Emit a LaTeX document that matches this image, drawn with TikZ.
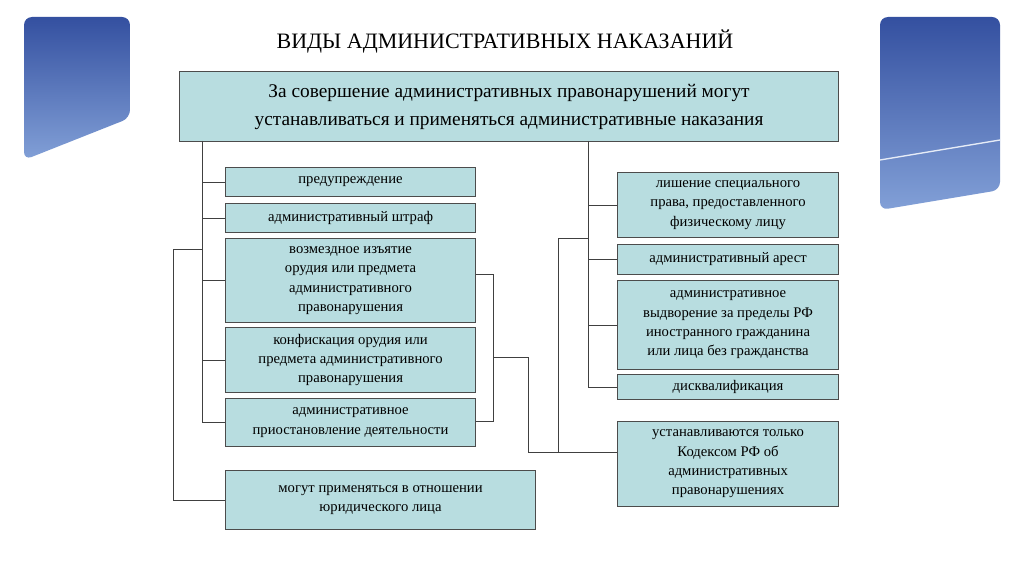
\documentclass[tikz,border=0pt]{standalone}
\usepackage{fontspec}
\setmainfont{Liberation Serif}
\begin{document}
\begin{tikzpicture}[x=0.75pt,y=-0.75pt,
 bx/.style={draw=black!70,fill=boxc,line width=0.8pt,align=center,font=\fontsize{11}{14.5}\selectfont,inner sep=0pt,anchor=north west},
 ln/.style={draw=black!75,line width=0.7pt}]
\definecolor{boxc}{RGB}{184,221,224}
\definecolor{bd}{RGB}{52,80,160}
\definecolor{bl}{RGB}{130,160,215}
\useasboundingbox (0,0) rectangle (1024,574);
\fill[white] (0,0) rectangle (1024,574);
% side panels
\shade[top color=bd,bottom color=bl,rounded corners=6pt] (24,17) -- (130,17) -- (130,118) -- (24,160) -- cycle;
\shade[top color=bd,bottom color=bl,rounded corners=6pt] (880,17) -- (1000,17) -- (1000,190) -- (880,210) -- cycle;
\draw[white!80!bl,line width=1pt] (880,160) -- (1000,140);
\fill[white] (130,0) rectangle (880,560);
% title
\node[font=\fontsize{16.5}{20}\selectfont] (title) at (505,42) {ВИДЫ АДМИНИСТРАТИВНЫХ НАКАЗАНИЙ};
% boxes
\node[bx,minimum width=659*0.75pt,minimum height=70*0.75pt,font=\fontsize{14.5}{21}\selectfont] (main) at (179,71) {За совершение административных правонарушений могут\\устанавливаться и применяться административные наказания};
\node[bx,minimum width=250*0.75pt,minimum height=29*0.75pt] (p1) at (225,167) {предупреждение};
\node[bx,minimum width=250*0.75pt,minimum height=29*0.75pt] (p2) at (225,203) {административный штраф};
\node[bx,minimum width=250*0.75pt,minimum height=84*0.75pt] (p3) at (225,238) {возмездное изъятие\\орудия или предмета\\административного\\правонарушения};
\node[bx,minimum width=250*0.75pt,minimum height=65*0.75pt] (p4) at (225,327) {конфискация орудия или\\предмета административного\\правонарушения};
\node[bx,minimum width=250*0.75pt,minimum height=48*0.75pt] (p5) at (225,398) {административное\\приостановление деятельности};
\node[bx,minimum width=310*0.75pt,minimum height=59*0.75pt] (p6) at (225,470) {могут применяться в отношении\\юридического лица};
\node[bx,minimum width=221*0.75pt,minimum height=65*0.75pt] (r1) at (617,172) {лишение специального\\права, предоставленного\\физическому лицу};
\node[bx,minimum width=221*0.75pt,minimum height=30*0.75pt] (r2) at (617,244) {административный арест};
\node[bx,minimum width=221*0.75pt,minimum height=89*0.75pt] (r3) at (617,280) {административное\\выдворение за пределы РФ\\иностранного гражданина\\или лица без гражданства};
\node[bx,minimum width=221*0.75pt,minimum height=25*0.75pt] (r4) at (617,374) {дисквалификация};
\node[bx,minimum width=221*0.75pt,minimum height=85*0.75pt] (r5) at (617,421) {устанавливаются только\\Кодексом РФ об\\административных\\правонарушениях};
% left trunk
\coordinate (lt) at (202,141);
\draw[ln] (lt) |- (p5.west);
\foreach \n in {p1,p2,p3,p4} \draw[ln] (p5.west -| lt) |- (\n.west);
\draw[ln] (202,249) -- (173,249) |- (p6.west);
% right trunk
\coordinate (rt) at (588,141);
\draw[ln] (rt) |- (r4.west);
\foreach \n in {r1,r2,r3} \draw[ln] (r4.west -| rt) |- (\n.west);
% bracket
\draw[ln] (p3.east |- 0,274) -- (493,274) -- (493,421) -- (p5.east |- 0,421);
\draw[ln] (493,357) -- (528,357) -- (528,452) -- (r5.west |- 0,452);
\draw[ln] (558,452) -- (558,238) -- (588,238);
\end{tikzpicture}
\end{document}
